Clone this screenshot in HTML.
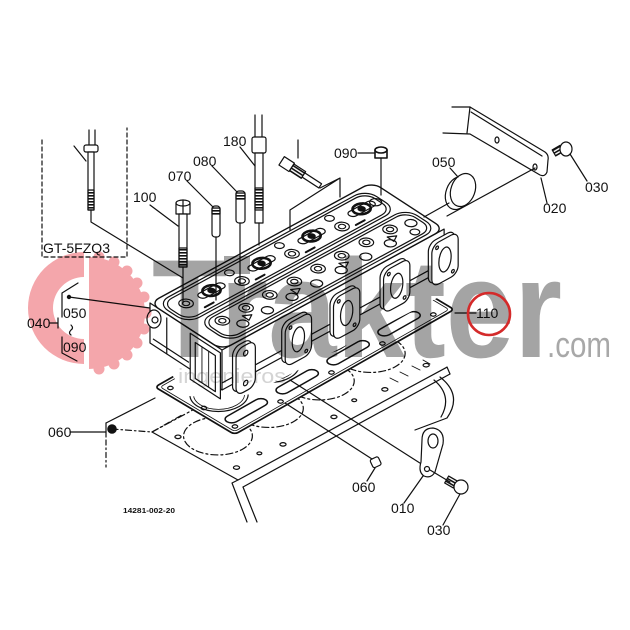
<!DOCTYPE html>
<html><head><meta charset="utf-8">
<style>
html,body{margin:0;padding:0;background:#fff;}
svg{display:block;}
.ns *{vector-effect:non-scaling-stroke;}
.lb{font-family:"Liberation Sans",Arial,sans-serif;font-size:14px;fill:#111;stroke:none;}
</style></head><body>
<svg width="630" height="630" viewBox="0 0 630 630" xmlns="http://www.w3.org/2000/svg">
<defs>
<pattern id="thr" width="6" height="3" patternUnits="userSpaceOnUse"><rect width="6" height="1.6" fill="#111"/></pattern>
</defs>
<rect width="630" height="630" fill="#fff"/>

<g fill="none" stroke="#111" stroke-width="1.2" stroke-linecap="round" stroke-linejoin="round">

<!-- ===== ENGINE BLOCK ===== -->
<g class="ns" transform="matrix(0.878,-0.474,0.86,0.48,152,432)">
  <path d="M0,0 L0,100 L238,100"/>
  <path d="M0,0 L240,0" stroke-dasharray="7 3 2 3"/>
  <g stroke-dasharray="7 3 2 3">
    <circle cx="34" cy="42" r="28"/><circle cx="92" cy="42" r="28"/>
    <circle cx="150" cy="42" r="28"/><circle cx="208" cy="42" r="28"/>
  </g>
  <circle cx="12" cy="86" r="2.5"/><circle cx="63" cy="88" r="2.5"/><circle cx="121" cy="88" r="2.5"/>
  <circle cx="179" cy="88" r="2.5"/><circle cx="228" cy="86" r="2.5"/><circle cx="10" cy="20" r="2.5"/>
  <circle cx="40" cy="84" r="2"/><circle cx="150" cy="82" r="2"/>
</g>
<path d="M243,487 L450,374"/>
<path d="M238,480 L232,483 L247,522"/>
<path d="M243,487 L257,522"/>
<path d="M447,367 L450,374"/>
<path d="M390,378 L398,382 M400,372 L408,376 M412,366 L420,370 M423,360 L430,364" stroke-width="0.9"/>
<path d="M440,377 Q463,395 447,418 L415,430"/>
<path d="M434,380 Q453,396 441,417"/>
<path d="M106,423 L155,398"/>
<path d="M106,423 L106,437"/>
<path d="M106,440 L106,467" stroke-dasharray="5 3 1.5 3"/>
<path d="M112,429 L152,432 L182,415" stroke-dasharray="6 3 1.5 3"/>
<path d="M70,432 L106,432"/>
<circle cx="112" cy="429" r="4.2" fill="#111"/>

<!-- ===== GASKET ===== -->
<g class="ns" transform="matrix(0.878,-0.5,0.838,0.5,155,387)">
  <rect x="0" y="0" width="250" height="95" rx="4" fill="#fff" stroke-width="1.7"/>
  <rect x="3" y="3" width="244" height="89" rx="3" stroke-width="0.8"/>
  <circle cx="30" cy="45" r="24"/><circle cx="30" cy="45" r="21" stroke-width="0.8"/>
  <circle cx="88" cy="45" r="24"/><circle cx="88" cy="45" r="21" stroke-width="0.8"/>
  <circle cx="146" cy="45" r="24"/><circle cx="146" cy="45" r="21" stroke-width="0.8"/>
  <circle cx="204" cy="45" r="24"/><circle cx="204" cy="45" r="21" stroke-width="0.8"/>
  <rect x="8" y="72" width="44" height="11" rx="5.5" stroke-width="1.5"/>
  <rect x="66" y="72" width="44" height="11" rx="5.5" stroke-width="1.5"/>
  <rect x="124" y="72" width="44" height="11" rx="5.5" stroke-width="1.5"/>
  <rect x="182" y="72" width="44" height="11" rx="5.5" stroke-width="1.5"/>
  <circle cx="8" cy="87" r="2.3"/><circle cx="59" cy="88" r="2.3"/><circle cx="117" cy="88" r="2.3"/>
  <circle cx="175" cy="88" r="2.3"/><circle cx="233" cy="88" r="2.3"/><circle cx="242" cy="60" r="2.3"/>
  <circle cx="8" cy="10" r="2.3"/><circle cx="8" cy="50" r="2.3"/>
</g>

<!-- ===== HEAD ===== -->
<polygon points="150,300 372,180 420,192 448,222 468,240 468,282 252,394 222,398 188,396 150,346" fill="#fff" stroke="none"/>

<!-- left end -->
<g class="ns" transform="matrix(0.838,0.546,0,1,150,303)">
  <rect x="0" y="0" width="86" height="40" fill="#fff"/>
  <path d="M20,4 L20,40"/>
  <path d="M4,34 L46,34"/>
  <rect x="48" y="4" width="36" height="46" fill="#fff"/>
  <rect x="54" y="10" width="24" height="36"/>
  <path d="M62,10 L62,46 M70,10 L70,46" stroke-width="0.9"/>
</g>
<ellipse cx="154" cy="319" rx="7" ry="9" fill="#fff"/>
<circle cx="155" cy="320" r="3"/>

<!-- front face -->
<g class="ns" transform="matrix(0.878,-0.478,0,1,222,350)">
  <rect x="0" y="0" width="253" height="40" fill="#fff"/>
  <path d="M0,33 L253,33"/>
  <rect x="12" y="4" width="22" height="46" rx="8" fill="#fff"/>
  <rect x="68" y="6" width="30" height="42" rx="8" fill="#fff"/>
  <rect x="123" y="6" width="30" height="42" rx="8" fill="#fff"/>
  <rect x="180" y="6" width="30" height="42" rx="8" fill="#fff"/>
  <rect x="235" y="6" width="30" height="42" rx="8" fill="#fff"/>
</g>
<g class="ns" transform="translate(3.5,2) matrix(0.878,-0.478,0,1,222,350)">
  <rect x="12" y="4" width="22" height="46" rx="8" fill="#fff"/>
  <circle cx="23" cy="12" r="2.5"/><circle cx="23" cy="42" r="2.5"/>
  <rect x="68" y="6" width="30" height="42" rx="8" fill="#fff"/>
  <ellipse cx="83" cy="27" rx="7" ry="12"/><circle cx="74" cy="11" r="1.6"/><circle cx="92" cy="43" r="1.6"/>
  <rect x="123" y="6" width="30" height="42" rx="8" fill="#fff"/>
  <ellipse cx="138" cy="27" rx="7" ry="12"/><circle cx="129" cy="11" r="1.6"/><circle cx="147" cy="43" r="1.6"/>
  <rect x="180" y="6" width="30" height="42" rx="8" fill="#fff"/>
  <ellipse cx="195" cy="27" rx="7" ry="12"/><circle cx="186" cy="11" r="1.6"/><circle cx="204" cy="43" r="1.6"/>
  <rect x="235" y="6" width="30" height="42" rx="8" fill="#fff"/>
  <ellipse cx="250" cy="27" rx="7" ry="12"/><circle cx="241" cy="11" r="1.6"/><circle cx="259" cy="43" r="1.6"/>
</g>

<!-- top surface -->
<g class="ns" transform="matrix(0.878,-0.478,0.838,0.546,150,303)">
  <rect x="0" y="0" width="253" height="86" rx="10" fill="#fff" stroke-width="1.4"/>
  <rect x="4" y="4" width="238" height="37" rx="13"/>
  <rect x="7" y="7" width="232" height="31" rx="11"/>
  <rect x="12" y="45" width="237" height="37" rx="13"/>
  <rect x="15" y="48" width="231" height="31" rx="11"/>
  <g transform="translate(50,21)"><rect x="-14" y="-4" width="28" height="8" rx="4"/><ellipse rx="8" ry="7" stroke-width="2.6" stroke-dasharray="1.6 1.2"/><circle r="3" fill="#111"/></g>
  <g transform="translate(107,21)"><rect x="-14" y="-4" width="28" height="8" rx="4"/><ellipse rx="8" ry="7" stroke-width="2.6" stroke-dasharray="1.6 1.2"/><circle r="3" fill="#111"/></g>
  <g transform="translate(164,21)"><rect x="-14" y="-4" width="28" height="8" rx="4"/><ellipse rx="8" ry="7" stroke-width="2.6" stroke-dasharray="1.6 1.2"/><circle r="3" fill="#111"/></g>
  <g transform="translate(221,21)"><rect x="-14" y="-4" width="28" height="8" rx="4"/><ellipse rx="8" ry="7" stroke-width="2.6" stroke-dasharray="1.6 1.2"/><circle r="3" fill="#111"/></g>
  <circle cx="22" cy="20" r="6"/><circle cx="22" cy="20" r="3"/>
  <circle cx="78" cy="28" r="6"/><circle cx="78" cy="28" r="3"/>
  <circle cx="135" cy="28" r="6"/><circle cx="135" cy="28" r="3"/>
  <circle cx="192" cy="28" r="6"/><circle cx="192" cy="28" r="3"/>
  <circle cx="78" cy="13" r="4"/><circle cx="135" cy="13" r="4"/><circle cx="192" cy="13" r="4"/>
  <circle cx="236" cy="22" r="5"/>
  <circle cx="28" cy="57" r="6"/><circle cx="28" cy="57" r="3"/>
  <circle cx="55" cy="57" r="6"/><circle cx="55" cy="57" r="3"/>
  <circle cx="82" cy="57" r="6"/><circle cx="82" cy="57" r="3"/>
  <circle cx="110" cy="57" r="6"/><circle cx="110" cy="57" r="3"/>
  <circle cx="137" cy="57" r="6"/><circle cx="137" cy="57" r="3"/>
  <circle cx="164" cy="57" r="6"/><circle cx="164" cy="57" r="3"/>
  <circle cx="192" cy="57" r="6"/><circle cx="192" cy="57" r="3"/>
  <circle cx="219" cy="57" r="6"/><circle cx="219" cy="57" r="3"/>
  <circle cx="238" cy="62" r="5"/>
  <circle cx="38" cy="71" r="5"/><circle cx="66" cy="71" r="5"/><circle cx="94" cy="71" r="5"/>
  <circle cx="122" cy="71" r="5"/><circle cx="150" cy="71" r="5"/><circle cx="178" cy="71" r="5"/>
  <circle cx="206" cy="71" r="5"/><circle cx="232" cy="73" r="4"/>
  <path d="M45,63 l7,4 l-7,4 z M100,63 l7,4 l-7,4 z M155,63 l7,4 l-7,4 z M210,63 l7,4 l-7,4 z"/>
  <path d="M30,34 l10,0 M88,34 l10,0 M145,34 l10,0 M202,34 l10,0" stroke-width="2"/>
</g>

<!-- ===== BOLTS / PARTS ===== -->
<path d="M42,140 L42,257 L127,257 L127,128" stroke-dasharray="4 3"/>
<path d="M89,130 L89,145 M95,130 L95,145 M74,146 L86,161"/>
<rect x="84" y="145" width="14" height="7" rx="2" fill="#fff"/>
<rect x="88" y="152" width="6" height="58" fill="#fff"/>
<rect x="88" y="190" width="6" height="20" fill="url(#thr)"/>
<path d="M91,210 L91,222 L183,278"/>
<rect x="176" y="203" width="14" height="11" fill="#fff"/>
<ellipse cx="183" cy="203" rx="7" ry="3" fill="#fff"/>
<path d="M183,200 L183,214"/>
<rect x="179" y="214" width="8" height="53" fill="#fff"/>
<rect x="179" y="248" width="8" height="19" fill="url(#thr)"/>
<path d="M183,267 L183,303"/>
<rect x="212" y="206" width="8" height="31" rx="3" fill="#fff"/>
<rect x="212" y="208" width="8" height="6" fill="url(#thr)"/>
<path d="M216,237 L216,300"/>
<rect x="236" y="191" width="9" height="32" rx="3" fill="#fff"/>
<rect x="236" y="193" width="9" height="6" fill="url(#thr)"/>
<path d="M240,223 L240,285"/>
<path d="M255,115 L255,137 M262,115 L262,137"/>
<rect x="252" y="137" width="14" height="16" rx="2" fill="#fff"/>
<rect x="255" y="153" width="8" height="70" fill="#fff"/>
<rect x="255" y="188" width="8" height="22" fill="url(#thr)"/>
<path d="M259,223 L259,245"/>
<path d="M298,140 L298,158"/>
<g transform="translate(285,163) rotate(33)">
  <rect x="-4" y="-5" width="12" height="10" fill="#fff"/>
  <rect x="8" y="-4" width="14" height="8" fill="url(#thr)"/>
  <rect x="22" y="-2.5" width="20" height="5" fill="#fff"/>
</g>
<path d="M320,188 L340,178 L340,197 M340,178 L290,210 L290,230"/>
<rect x="375" y="150" width="12" height="8" fill="#fff" stroke-width="1.6"/>
<ellipse cx="381" cy="150" rx="6" ry="3" fill="#fff" stroke-width="1.6"/>
<path d="M381,158 L381,195"/>
<ellipse cx="458" cy="193" rx="12" ry="17" transform="rotate(20 458 193)" fill="#fff"/>
<ellipse cx="463" cy="190" rx="12" ry="17" transform="rotate(20 463 190)" fill="#fff"/>
<path d="M449,203 L424,217"/>
<path d="M452,107 L470,107 L545,152 Q549,155 548,160 L547,172 Q545,177 540,175 L470,134 L443,133" fill="#fff"/>
<path d="M470,107 L467,133 M471,112 L542,156"/>
<ellipse cx="497" cy="140" rx="2" ry="3"/>
<ellipse cx="535" cy="167" rx="2" ry="3"/>
<path d="M535,168 L447,216"/>
<rect x="553" y="147" width="9" height="7" fill="url(#thr)" transform="rotate(-30 558 150)"/>
<ellipse cx="566" cy="149" rx="6" ry="7" fill="#fff"/>
<rect x="371" y="458" width="9" height="9" rx="2" fill="#fff" transform="rotate(-25 375 462)"/>
<path d="M285,403 L372,459"/>
<path d="M290,380 L423,465"/>
<path d="M422,440 Q422,428 433,428 Q445,430 443,444 L435,472 Q431,479 424,476 Q418,472 421,462 Z" fill="#fff"/>
<ellipse cx="433" cy="441" rx="5" ry="7"/>
<circle cx="427" cy="469" r="2.5"/>
<path d="M430,470 L450,482"/>
<rect x="446" y="478" width="10" height="8" fill="url(#thr)" transform="rotate(30 451 482)"/>
<ellipse cx="461" cy="487" rx="7" ry="7" fill="#fff"/>

<path d="M150,205 L178,226 M187,181 L213,207 M212,166 L237,192 M240,147 L255,166 M358,153 L375,153 M450,168 L458,177 M547,203 L541,178 M587,181 L570,154 M455,313 L476,313 M367,481 L375,468 M404,503 L423,476 M443,525 L460,494"/>
<path d="M78,283 L62,293 L62,317 M62,337 L62,353 L77,361 M50,323 L58,323 M58,318 L58,328 M71,325 q3,3 0,5 q-3,3 0,5"/>
<circle cx="69" cy="297" r="1.6" fill="#111"/>
<path d="M69,297 L150,308"/>
</g>

<!-- ===== LABELS ===== -->
<g>
<text class="lb" x="43" y="253" textLength="67" lengthAdjust="spacingAndGlyphs">GT-5FZQ3</text>
<text class="lb" x="133" y="202">100</text>
<text class="lb" x="168" y="181">070</text>
<text class="lb" x="193" y="166">080</text>
<text class="lb" x="223" y="146">180</text>
<text class="lb" x="334" y="158">090</text>
<text class="lb" x="432" y="167">050</text>
<text class="lb" x="543" y="213">020</text>
<text class="lb" x="585" y="192">030</text>
<text class="lb" x="476" y="318">110</text>
<text class="lb" x="27" y="328">040</text>
<text class="lb" x="63" y="318">050</text>
<text class="lb" x="63" y="352">090</text>
<text class="lb" x="48" y="437">060</text>
<text class="lb" x="352" y="492">060</text>
<text class="lb" x="391" y="513">010</text>
<text class="lb" x="427" y="535">030</text>
<text class="lb" x="123" y="513" style="font-size:7.5px;font-weight:bold" textLength="52" lengthAdjust="spacingAndGlyphs">14281-002-20</text>
</g>

<!-- ===== WATERMARK ===== -->
<g style="mix-blend-mode:multiply">
  <path d="M84,252 A56,56 0 0 0 84,364 L84,339 A31,31 0 0 1 84,277 Z" fill="#f4a6ab"/>
  <path d="M89,257 A56,56 0 0 1 89,369 Z" fill="#f4a6ab"/>
  <g fill="#f4a6ab">
    <circle cx="99" cy="257" r="5.5"/><circle cx="114" cy="262" r="5.5"/><circle cx="127" cy="271" r="5.5"/>
    <circle cx="137" cy="283" r="5.5"/><circle cx="144" cy="297" r="5.5"/><circle cx="146" cy="313" r="5.5"/>
    <circle cx="144" cy="329" r="5.5"/><circle cx="137" cy="343" r="5.5"/><circle cx="127" cy="355" r="5.5"/>
    <circle cx="114" cy="364" r="5.5"/><circle cx="99" cy="369" r="5.5"/>
  </g>
  <text x="152" y="357" font-family="Liberation Sans, Arial, sans-serif" font-weight="bold" font-size="140" fill="#a4a4a4" textLength="410" lengthAdjust="spacingAndGlyphs">Trakter</text>
  <rect x="224" y="256" width="26" height="18" fill="#a4a4a4"/>
  <text x="547" y="357" font-family="Liberation Sans, Arial, sans-serif" font-size="36" fill="#a8a8a8" textLength="64" lengthAdjust="spacingAndGlyphs">.com</text>
  <text x="178" y="383" font-family="Liberation Sans, Arial, sans-serif" font-size="20" fill="#d4d4d4" textLength="108" lengthAdjust="spacingAndGlyphs">ingenieros</text>
</g>

<circle cx="489" cy="314" r="21" fill="none" stroke="#d42a2a" stroke-width="2.6"/>
</svg>
</body></html>
